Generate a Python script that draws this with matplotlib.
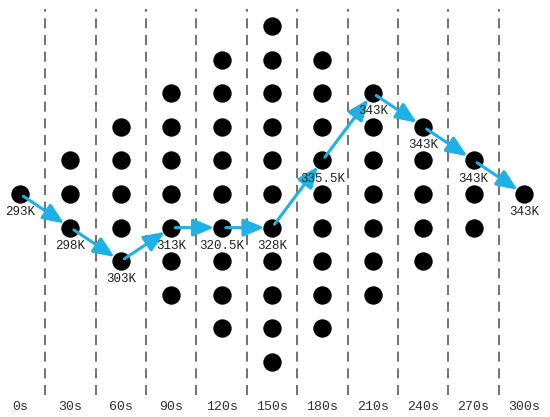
import matplotlib
matplotlib.use("Agg")
import matplotlib.pyplot as plt

# time steps, number of dots per column, path row per column, path labels
times = ["0s", "30s", "60s", "90s", "120s", "150s", "180s", "210s", "240s", "270s", "300s"]
dot_counts = [1, 3, 5, 7, 9, 11, 9, 7, 5, 3, 1]
path_rows = [0, -1, -2, -1, -1, -1, 1, 3, 2, 1, 0]
temps = ["293K", "298K", "303K", "313K", "320.5K", "328K", "335.5K", "343K", "343K", "343K", "343K"]

BLUE = "#1fb0e6"
FONT = "Liberation Mono"

fig = plt.figure(figsize=(5.5, 4.17), dpi=100)
ax = fig.add_axes([0, 0, 1, 1])
ax.set_xlim(-0.397, 10.516)
ax.set_ylim(-6.637, 5.774)
ax.axis("off")

# dashed separators between columns
for i in range(len(times) - 1):
    ax.plot([i + 0.5, i + 0.5], [-5.98, 5.5], color="#5a5a5a", lw=1.2,
            dashes=(6, 4), zorder=1)

# dots
for i, n in enumerate(dot_counts):
    rows = list(range(-(n // 2), n // 2 + 1))
    ax.scatter([i] * len(rows), rows, s=175, color="black", zorder=3, lw=0)

# arrows along the path
for i in range(len(path_rows) - 1):
    ax.annotate("", xy=(i + 1, path_rows[i + 1]), xytext=(i, path_rows[i]),
                arrowprops=dict(arrowstyle="-|>,head_length=0.9,head_width=0.38",
                                color=BLUE, lw=2.2, shrinkA=3, shrinkB=5.5,
                                mutation_scale=14),
                zorder=4)

# temperature labels under the path dots
for i, (r, t) in enumerate(zip(path_rows, temps)):
    ax.text(i, r - 0.54, t, ha="center", va="center", fontsize=9,
            family=FONT, color="#222222", zorder=5)

# time labels
for i, t in enumerate(times):
    ax.text(i, -6.34, t, ha="center", va="center", fontsize=9.5,
            family=FONT, color="#333333")

fig.savefig("out.png", dpi=100)
